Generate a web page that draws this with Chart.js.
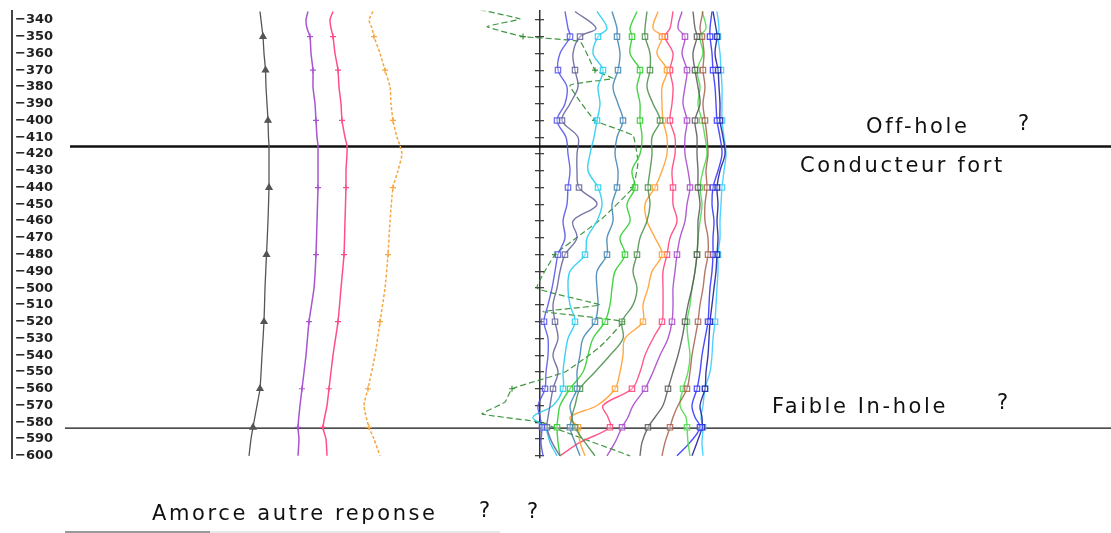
<!DOCTYPE html>
<html>
<head>
<meta charset="utf-8">
<script src="https://cdn.jsdelivr.net/npm/chart.js@4/dist/chart.umd.min.js"></script>
<style>
  html, body { margin: 0; padding: 0; background: #fff; }
  #wrap { width: 1111px; height: 533px; position: relative; }
</style>
</head>
<body>
<div id="wrap"><canvas id="c" width="1111" height="533"></canvas></div>
<script>
// Borehole EM profile: depth (m) vs normalised channel response.
// Response is plotted as an offset from the reference axis (x = 0).

// Reading stations (labelled marks on each channel)
const stations = [-350, -370, -400, -440, -480, -520, -560, -583];

// Left group: total-field components
const leftDepths = [-335, -340, -345, -350, -360, -370, -380, -390, -400, -410, -415, -420,
                    -430, -440, -460, -480, -500, -520, -540, -560, -570, -583, -590, -600];
const compA = [-280, -279, -278, -277, -276, -274.5, -274, -273, -272, -271.5, -271, -271,
               -271, -271, -272, -273.5, -275, -276, -278, -280, -283, -287, -289, -291];
const compB = [-232, -234, -233, -230, -229, -227, -227, -225, -224, -223, -222, -222,
               -222, -222, -223, -224, -226, -231, -234, -238, -240, -242, -241, -242];
const compC = [-207, -210, -209, -207, -205, -202, -201, -199, -198, -195, -193, -193,
               -194, -194, -195, -196, -199, -202, -207, -211, -213, -217, -214, -213];
const compD = [-167, -171, -168, -166, -160, -155, -150, -149, -147, -143, -140, -138,
               -142, -147, -150, -152, -155, -160, -165, -172, -176, -171, -166, -160];

// Right group: time channels
const chDepths = [-335, -345, -350, -360, -370, -380, -390, -400, -410, -420, -430, -440, -450, -460, -470,
                  -480, -490, -500, -510, -520, -530, -540, -550, -560, -570, -577, -583, -592, -600];
const ch01 = [25, 28, 30, 20, 18, 27, 25, 17, 26, 28, 30, 28, 27, 23, 25, 18, 15, 12, 8, 4, 8, 8, 6, 5, -2, 0, 2, 1, 3];
const ch02 = [35, 56, 40, 33, 35, 38, 30, 22, 38, 37, 37, 39, 57, 33, 37, 25, 20, 17, 13, 15, 18, 13, 18, 13, 10, 8, 7, 12, 20];
const ch03 = [57, 67, 58, 53, 63, 58, 60, 57, 54, 50, 48, 58, 62, 57, 47, 45, 30, 28, 30, 35, 28, 25, 23, 23, 13, -7, 5, 10, 17];
const ch04 = [72, 77, 77, 80, 78, 73, 78, 83, 77, 75, 78, 77, 72, 73, 67, 67, 57, 57, 58, 55, 43, 40, 37, 37, 30, 32, 30, 35, 40];
const ch05 = [97, 90, 92, 90, 100, 97, 100, 100, 102, 100, 92, 95, 87, 90, 80, 85, 75, 72, 70, 65, 53, 48, 43, 30, 20, 18, 17, 18, 20];
const ch06 = [107, 105, 105, 110, 110, 107, 113, 120, 112, 112, 110, 108, 110, 107, 100, 97, 93, 97, 93, 82, 83, 70, 55, 40, 35, 32, 35, 45, 55];
const ch07 = [118, 113, 122, 117, 127, 122, 122, 123, 127, 127, 122, 115, 105, 107, 115, 122, 112, 108, 103, 103, 85, 83, 80, 75, 57, 30, 38, 40, 45];
const ch08 = [133, 130, 125, 133, 130, 133, 132, 130, 135, 135, 132, 133, 133, 137, 130, 127, 123, 123, 123, 122, 113, 105, 100, 92, 63, 68, 70, 40, 20];
const ch09 = [142, 138, 145, 142, 147, 145, 143, 147, 145, 145, 148, 150, 147, 145, 140, 137, 135, 133, 133, 132, 128, 120, 113, 105, 93, 88, 82, 75, 67];
const ch10 = [153, 155, 157, 153, 155, 158, 160, 155, 157, 157, 158, 158, 160, 158, 158, 157, 155, 152, 148, 145, 142, 138, 133, 128, 123, 115, 108, 102, 100];
const ch11 = [163, 160, 162, 164, 163, 165, 163, 165, 167, 168, 166, 167, 165, 165, 168, 168, 165, 163, 160, 158, 155, 152, 150, 147, 138, 133, 130, 125, 122];
const ch12 = [162, 166, 160, 163, 157, 160, 158, 162, 165, 167, 163, 160, 162, 160, 158, 157, 155, 152, 150, 147, 148, 150, 148, 143, 140, 146, 147, 148, 150];
const ch13 = [172, 170, 170, 172, 173, 175, 176, 177, 180, 182, 178, 173, 172, 174, 173, 173, 172, 170, 169, 168, 165, 162, 160, 157, 152, 155, 160, 150, 137];
const ch14 = [173, 176, 177, 175, 178, 179, 180, 180, 183, 185, 180, 177, 178, 177, 178, 177, 176, 174, 172, 170, 169, 168, 166, 165, 160, 162, 162, 157, 152];
const ch15 = [177, 179, 178, 180, 181, 182, 182, 182, 184, 186, 184, 182, 181, 180, 180, 178, 178, 177, 176, 175, 173, 172, 170, 165, 163, 161, 163, 162, 163];

// Early channel (dashed), large swings
const earlyDepths = [-334, -339.5, -344, -350, -353, -370, -375, -379, -400, -409, -425, -440, -458, -467,
                     -480, -500, -510, -514, -520, -535, -550, -560, -568, -575, -580, -584, -600];
const earlyResp = [-60, -20, -53, -17, 40, 55, 73, 30, 55, 93, 98, 93, 63, 43,
                   15, -3, 60, 3, 82, 60, 25, -28, -35, -58, 2, 17, 90];

// Interpreted boundaries: depth, left end of the line, line weight
const boundaryDepths = [-415.5, -583.5];
const boundaryStart = [-470, -475];
const boundaryWeight = [2.6, 1.3];

// Axis extents
const depthMin = -601.3, depthMax = -334.6;
const respMin = -528, respMax = 571;

const stationRadius = (depths, r) => depths.map(d => stations.includes(d) ? r : 0);

function series(depths, resp, color, opts = {}) {
  return Object.assign({
    data: depths.map((d, i) => ({ x: resp[i], y: d })),
    showLine: true,
    borderColor: color,
    backgroundColor: color,
    borderWidth: 1.4,
    tension: 0.35,
    pointStyle: 'rect',
    pointRadius: stationRadius(depths, 3.8),
    pointBorderWidth: 1.2,
    pointBackgroundColor: 'rgba(255,255,255,0.35)',
    pointBorderColor: color
  }, opts);
}

const channels = [
  [ch01, 'rgba(80,80,235,0.85)'],
  [ch02, 'rgba(95,95,150,0.85)'],
  [ch03, 'rgba(40,205,240,0.9)'],
  [ch04, 'rgba(70,135,180,0.9)'],
  [ch05, 'rgba(50,205,50,0.9)'],
  [ch06, 'rgba(70,140,70,0.85)'],
  [ch07, 'rgba(255,160,50,0.9)'],
  [ch08, 'rgba(255,70,125,0.9)'],
  [ch09, 'rgba(170,75,205,0.9)'],
  [ch10, 'rgba(85,85,85,0.85)'],
  [ch11, 'rgba(165,95,75,0.85)'],
  [ch12, 'rgba(80,220,80,0.9)'],
  [ch13, 'rgba(55,55,255,0.9)'],
  [ch14, 'rgba(35,35,160,0.9)'],
  [ch15, 'rgba(60,205,255,0.9)']
];

const datasets = [];

datasets.push(series(leftDepths, compA, '#555555', { tension: 0.2, borderWidth: 1.3, pointStyle: 'triangle', pointRadius: stationRadius(leftDepths, 3.5), pointBackgroundColor: '#555' }));
datasets.push(series(leftDepths, compB, '#a855d0', { tension: 0.2, borderWidth: 1.5, pointStyle: 'cross', pointRadius: stationRadius(leftDepths, 3) }));
datasets.push(series(leftDepths, compC, '#ff4f8a', { tension: 0.2, borderWidth: 1.5, pointStyle: 'cross', pointRadius: stationRadius(leftDepths, 3) }));
datasets.push(series(leftDepths, compD, '#f4a640', { tension: 0.2, borderWidth: 1.5, borderDash: [3, 2], pointStyle: 'cross', pointRadius: stationRadius(leftDepths, 3) }));

channels.forEach(([resp, color]) => datasets.push(series(chDepths, resp, color)));

datasets.push(series(earlyDepths, earlyResp, 'rgba(45,140,45,0.9)', {
  tension: 0.1, borderWidth: 1.2, borderDash: [6, 3], pointStyle: 'cross', pointRadius: stationRadius(earlyDepths, 3)
}));

boundaryDepths.forEach((d, i) => datasets.push({
  data: [{ x: boundaryStart[i], y: d }, { x: respMax, y: d }],
  showLine: true, borderColor: '#111', borderWidth: boundaryWeight[i], pointRadius: 0, tension: 0
}));

// Interpretation notes
const notes = [
  { text: 'Off-hole', x: 866, y: 128 },
  { text: '?', x: 1018, y: 125 },
  { text: 'Conducteur fort', x: 800, y: 167 },
  { text: 'Faible In-hole', x: 772, y: 408 },
  { text: '?', x: 997, y: 404 },
  { text: 'Amorce autre reponse', x: 152, y: 515 },
  { text: '?', x: 479, y: 512 },
  { text: '?', x: 527, y: 513 }
];

const notesPlugin = {
  id: 'notes',
  afterDraw(chart) {
    const ctx = chart.ctx;
    ctx.save();
    ctx.fillStyle = '#111';
    ctx.font = '21px "DejaVu Sans"';
    ctx.textBaseline = 'middle';
    ctx.textAlign = 'left';
    if ('letterSpacing' in ctx) ctx.letterSpacing = '2.6px';
    notes.forEach(n => ctx.fillText(n.text, n.x, n.y));
    ctx.lineWidth = 1.5;
    ctx.strokeStyle = '#777';
    ctx.beginPath(); ctx.moveTo(65, 532); ctx.lineTo(210, 532); ctx.stroke();
    ctx.lineWidth = 1;
    ctx.strokeStyle = '#d0d0d0';
    ctx.beginPath(); ctx.moveTo(210, 532); ctx.lineTo(500, 532); ctx.stroke();
    ctx.restore();
  }
};

const sharedDepthAxis = {
  type: 'linear', axis: 'y', min: depthMin, max: depthMax,
  ticks: { stepSize: 10, includeBounds: false, display: false, autoSkip: false },
  grid: { drawOnChartArea: false, drawTicks: true, color: '#444', lineWidth: 1.3 },
  border: { display: false }
};

new Chart(document.getElementById('c'), {
  type: 'scatter',
  data: { datasets },
  options: {
    responsive: false,
    animation: false,
    devicePixelRatio: 1,
    layout: { padding: { left: 12, right: 0, top: 9, bottom: 75 } },
    plugins: { legend: { display: false }, tooltip: { enabled: false } },
    scales: {
      x: { type: 'linear', min: respMin, max: respMax, display: false },
      y: {
        type: 'linear', position: 'left', min: depthMin, max: depthMax,
        ticks: {
          stepSize: 10, includeBounds: false, autoSkip: false, mirror: true, padding: 3,
          color: '#222', font: { family: 'DejaVu Sans', weight: 'bold', size: 13 },
          callback: v => '\u2212' + Math.abs(v)
        },
        grid: { display: false, drawTicks: false },
        border: { display: true, color: '#444', width: 2 },
        afterFit: s => { s.width = 0; }
      },
      yMidL: Object.assign({}, sharedDepthAxis, {
        position: { x: 0 },
        grid: Object.assign({}, sharedDepthAxis.grid, { tickLength: 4 }),
        border: { display: true, color: '#333', width: 1.5 }
      }),
      yMidR: Object.assign({}, sharedDepthAxis, {
        position: { x: 0 },
        grid: Object.assign({}, sharedDepthAxis.grid, { tickLength: -4 })
      })
    }
  },
  plugins: [notesPlugin]
});
</script>
</body>
</html>
